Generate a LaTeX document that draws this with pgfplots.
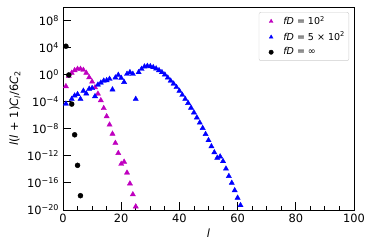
\documentclass[border=0pt]{standalone}
\usepackage{fontspec}
\setmainfont{DejaVu Sans}
\usepackage{pgfplots}
\pgfplotsset{compat=1.18}
\definecolor{mplm}{rgb}{0.75,0,0.75}
\begin{document}
\fontsize{11.4bp}{13bp}\selectfont
\begin{tikzpicture}[x=1bp,y=1bp]
\path[use as bounding box] (-63,-40) rectangle (311,210);
\begin{axis}[
  at={(0,0)}, anchor=south west,
  scale only axis, width=291bp, height=203bp,
  ymode=log, log basis y=10,
  xmin=0, xmax=100, ymin=1e-20, ymax=1e10,
  xtick={0,20,40,60,80,100}, xticklabels={0,20,40,60,80,100},
  minor xtick={5,10,15,25,30,35,45,50,55,65,70,75,85,90,95},
  ytick={1e-20,1e-16,1e-12,1e-8,1e-4,1,1e4,1e8},
  yticklabels={10\textsuperscript{−20},10\textsuperscript{−16},10\textsuperscript{−12},10\textsuperscript{−8},10\textsuperscript{−4},10\textsuperscript{0},10\textsuperscript{4},10\textsuperscript{8}},
  yminorticks=false,
  tick align=inside, xtick pos=bottom, ytick pos=left,
  major tick length=8bp, minor tick length=4bp,
  tick style={black, line width=0.9bp},
  axis line style={line width=0.9bp},
  xlabel={\textit{l}},
  ylabel={\textit{l}(\textit{l} + 1)\textit{C}\textsubscript{\textit{l}}/6\textit{C}\textsubscript{2}},
  every axis x label/.style={at={(axis description cs:0.5,-0.113)}, anchor=center},
  every axis y label/.style={at={(axis description cs:-0.165,0.5)}, rotate=90, anchor=center},
  legend style={at={(0.983,0.975)}, anchor=north east, draw=black!20, rounded corners=2bp,
    font=\fontsize{9.5bp}{11bp}\selectfont, inner sep=2bp, row sep=1.5bp},
  legend cell align=left,
  legend image code/.code={\path (0bp,0bp) (20bp,0bp); \draw[#1,mark size=2.2bp] plot coordinates {(10bp,0bp)};},
]
\addplot[only marks, mark=triangle*, mark size=3bp, color=mplm] coordinates {
(1,1.9e-2) (2,0.63) (3,1.8) (4,4.4) (5,6.9) (6,6.9) (7,4.9) (8,1.8) (9,0.4) (10,9.1e-2)
(11,1.3e-2) (12,1.5e-3) (13,1.6e-4) (14,1.1e-5) (15,6.8e-7) (16,4e-8) (17,1.8e-9) (18,7.9e-11)
(19,2.5e-12) (20,6.3e-14) (21,1.3e-13) (22,3.2e-15) (23,7.9e-17) (24,2e-18) (25,3.2e-20)
};
\addlegendentry{\textit{fD} = 10\textsuperscript{2}}
\addplot[only marks, mark=triangle*, mark size=3bp, color=blue] coordinates {
(1,5e-5) (3,2.5e-4) (4,7.9e-4) (5,1.26e-3) (6,2.5e-4) (7,4e-3) (8,1.6e-3) (9,7.9e-3) (10,1e-2)
(11,6.3e-4) (12,3.2e-2) (13,6.3e-2) (14,0.126) (15,0.145) (16,0.23) (17,6.3e-3) (18,0.36)
(19,0.89) (20,0.32) (21,7.9e-2) (22,1.26) (23,2.24) (24,1.26) (25,2.5e-4) (26,2.24) (27,6.9)
(28,15.5) (29,19) (30,17) (31,12.3) (32,7.8) (33,4.4) (34,2.24) (35,1) (36,0.355) (37,0.126)
(38,4.5e-2) (39,1.4e-2) (40,4e-3) (41,1e-3) (42,2.5e-4) (43,6.3e-5) (44,1.26e-5) (45,2.5e-6)
(46,4.5e-7) (47,7.9e-8) (48,1.26e-8) (49,1.6e-9) (50,2e-10) (51,2.5e-11) (52,3.2e-12)
(53,5e-13) (54,7.9e-13) (55,1.6e-13) (56,1.26e-14) (57,1e-15) (58,1e-16) (59,7.9e-18)
(60,6.3e-19) (61,5e-20)
};
\addlegendentry{\textit{fD} = 5 × 10\textsuperscript{2}}
\addplot[only marks, mark=*, mark size=2.5bp, color=black] coordinates {
(1,1.6e4) (2,0.9) (3,4.5e-5) (4,1.3e-9) (5,4e-14) (6,1.3e-18)
};
\addlegendentry{\textit{fD} = ∞}
\end{axis}
\end{tikzpicture}
\end{document}
